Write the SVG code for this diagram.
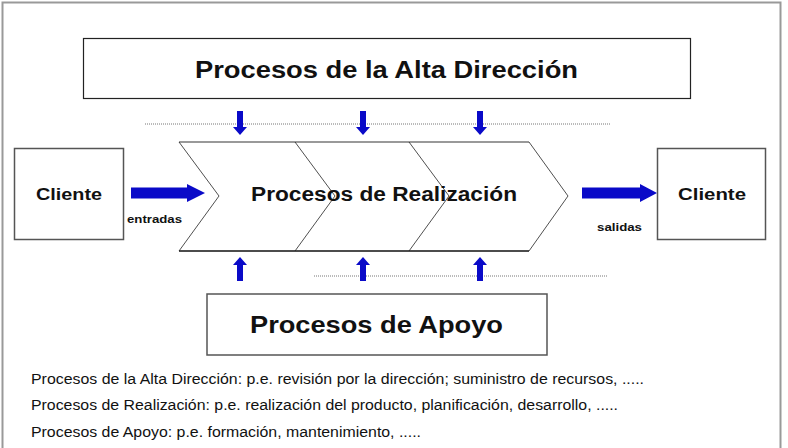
<svg xmlns="http://www.w3.org/2000/svg" width="788" height="448" viewBox="0 0 788 448">
<defs>
<style>
.box{fill:#fff;stroke:#222;stroke-width:1.2}
.gbox{fill:#fff;stroke:#555;stroke-width:1.5}
.t{font-family:"Liberation Sans",Arial,sans-serif;font-weight:bold;fill:#111}
.n{font-family:"Liberation Sans",Arial,sans-serif;fill:#111;font-size:14px}
.dot{stroke:#777;stroke-width:1;stroke-dasharray:1 1;fill:none}
.arr{fill:#0a0ac8}
.chev{fill:none;stroke:#222;stroke-width:0.8}
</style>
<path id="dn" d="M-3,0 H3 V16 H7 L0,24 L-7,16 H-3 Z"/>
<path id="up" d="M-3,24 H3 V8 H7 L0,0 L-7,8 H-3 Z"/>
</defs>
<rect width="788" height="448" fill="#fff"/>
<path d="M2.5,448 V2.5 H780.5 V448" fill="none" stroke="#999" stroke-width="2"/>

<g id="alta">
<rect class="box" x="83.5" y="38.5" width="607" height="60"/>
<text class="t" x="195" y="78" font-size="23.5" textLength="383" lengthAdjust="spacingAndGlyphs">Procesos de la Alta Dirección</text>
</g>

<g id="realizacion">
<line x1="179" y1="142" x2="529" y2="142" stroke="#999" stroke-width="2"/>
<line x1="179" y1="251" x2="529" y2="251" stroke="#111" stroke-width="1.5"/>
<polyline class="chev" points="179,142 219,196 179,251"/>
<polyline class="chev" points="295,142 335,196 295,251"/>
<polyline class="chev" points="409,142 449,196 409,251"/>
<polyline class="chev" points="529,142 568,196 529,251"/>
<text class="t" x="251" y="201" font-size="20" textLength="266" lengthAdjust="spacingAndGlyphs">Procesos de Realización</text>
</g>

<g id="cliente-in">
<rect class="gbox" x="14.5" y="148.5" width="109" height="91"/>
<text class="t" x="36" y="200" font-size="17" textLength="66" lengthAdjust="spacingAndGlyphs">Cliente</text>
</g>

<g id="cliente-out">
<rect class="gbox" x="657.5" y="148.5" width="108" height="91"/>
<text class="t" x="678" y="200" font-size="17" textLength="68" lengthAdjust="spacingAndGlyphs">Cliente</text>
</g>

<g id="apoyo">
<rect class="gbox" x="207" y="294" width="340" height="61"/>
<text class="t" x="250" y="333" font-size="23.5" textLength="253" lengthAdjust="spacingAndGlyphs">Procesos de Apoyo</text>
</g>

<g id="connectors">
<line class="dot" x1="145" y1="124" x2="610" y2="124"/>
<line class="dot" x1="314" y1="276" x2="607" y2="276"/>
<use href="#dn" class="arr" x="240" y="111"/>
<use href="#dn" class="arr" x="363" y="111"/>
<use href="#dn" class="arr" x="480" y="111"/>
<use href="#up" class="arr" x="240" y="257"/>
<use href="#up" class="arr" x="363" y="257"/>
<use href="#up" class="arr" x="480" y="257"/>
<path class="arr" d="M131,187.5 H187 V184 L205,193 L187,202 V198.5 H131 Z"/>
<path class="arr" d="M582,187.5 H640 V184 L657,193 L640,202 V198.5 H582 Z"/>
<text class="t" x="127" y="223" font-size="11.5" textLength="55" lengthAdjust="spacingAndGlyphs">entradas</text>
<text class="t" x="597" y="231" font-size="11.5" textLength="45" lengthAdjust="spacingAndGlyphs">salidas</text>
</g>

<g id="notes">
<text class="n" x="31" y="384" textLength="613" lengthAdjust="spacingAndGlyphs">Procesos de la Alta Dirección: p.e. revisión por la dirección; suministro de recursos, .....</text>
<text class="n" x="31" y="410" textLength="587" lengthAdjust="spacingAndGlyphs">Procesos de Realización: p.e. realización del producto, planificación, desarrollo, .....</text>
<text class="n" x="31" y="437" textLength="390" lengthAdjust="spacingAndGlyphs">Procesos de Apoyo: p.e. formación, mantenimiento, .....</text>
</g>
</svg>
